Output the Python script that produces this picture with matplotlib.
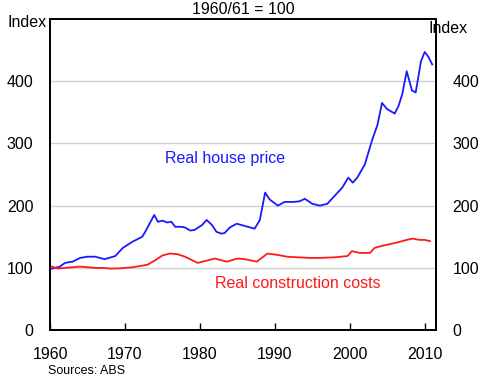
import matplotlib.pyplot as plt
import numpy as np

plt.rcParams['font.family'] = ['Liberation Sans', 'DejaVu Sans']

# real house price (index, 1960/61 = 100)
house_years = [1960, 1961.3, 1962, 1963, 1964, 1965, 1966, 1967.3, 1968.7, 1969.7,
               1971, 1972.3, 1972.7, 1973.9, 1974.4, 1975, 1975.6, 1976.2, 1976.7, 1977.5,
               1978, 1978.7, 1979.3, 1980.3, 1980.9, 1981.6, 1982.2, 1982.9, 1983.3, 1984,
               1984.9, 1985.8, 1986.7, 1987.3, 1988, 1988.7, 1989.3, 1990.4, 1991.3, 1992.5,
               1993.3, 1994, 1995, 1996, 1997, 1998, 1999, 1999.8, 2000.4, 2001,
               2002, 2003, 2003.7, 2004.3, 2005, 2006, 2006.5, 2007, 2007.6, 2008.3,
               2008.8, 2009.5, 2010, 2010.5, 2011]
house_price = [98, 102, 108, 110, 116, 118, 118, 114, 119, 132,
               142, 150, 158, 185, 174, 176, 173, 174, 166, 166,
               165, 160, 161, 169, 177, 169, 158, 155, 156, 165,
               171, 168, 165, 163, 177, 221, 210, 200, 206, 206,
               207, 211, 203, 200, 203, 216, 229, 245, 237, 245,
               266, 306, 330, 365, 355, 348, 360, 379, 416, 385,
               382, 432, 447, 439, 427]

# real construction costs
cost_years = [1960, 1961, 1962, 1963, 1964, 1965, 1966, 1967, 1968, 1969,
              1970, 1971, 1972, 1973, 1974, 1975, 1976, 1977, 1978, 1979.7,
              1981, 1982, 1983.6, 1985, 1986, 1987.6, 1989, 1990.3, 1991.6, 1993,
              1994.7, 1996, 1998, 1999.7, 2000.3, 2001.3, 2002.7, 2003.3, 2004.5, 2005.7,
              2006.7, 2007.6, 2008.4, 2009.3, 2010, 2010.7]
cost_index = [103, 99, 100, 101, 102, 101, 100, 100, 99, 99,
              100, 101, 103, 105, 112, 120, 123, 122, 118, 108,
              112, 115, 110, 115, 114, 110, 123, 121, 118, 117,
              116, 116, 117, 119, 127, 124, 124, 132, 136, 139,
              142, 145, 147, 145, 145, 143]

fig = plt.figure(figsize=(4.86, 3.87), dpi=100)
ax = fig.add_axes([0.103, 0.147, 0.794, 0.804])

ax.plot(house_years, house_price, color='#1a1aff', lw=1.3)
ax.plot(cost_years, cost_index, color='#ff1a1a', lw=1.3)

ax.set_xlim(1960, 2011.5)
ax.set_ylim(0, 500)
ax.set_yticks([0, 100, 200, 300, 400])
ax.set_xticks([1960, 1970, 1980, 1990, 2000, 2010])
for v in [100, 200, 300, 400]:
    ax.axhline(v, color='#d0d0d0', lw=1, zorder=0)

ax.tick_params(axis='x', direction='in', length=5, width=1, pad=12, labelsize=11.5)
ax.tick_params(axis='y', length=0, pad=12, labelsize=11.5)
for s in ax.spines.values():
    s.set_linewidth(1.3)

ax2 = ax.twinx()
ax2.set_ylim(0, 500)
ax2.set_yticks([0, 100, 200, 300, 400])
ax2.tick_params(axis='y', length=0, pad=12, labelsize=11.5)
for s in ax2.spines.values():
    s.set_linewidth(1.3)

fig.text(0.5, 0.975, '1960/61 = 100', ha='center', va='center', fontsize=11.5)
fig.text(0.016, 0.943, 'Index', ha='left', va='center', fontsize=11.5)
fig.text(0.882, 0.927, 'Index', ha='left', va='center', fontsize=11.5)
fig.text(0.099, 0.041, 'Sources: ABS', ha='left', va='center', fontsize=9)

ax.text(1975.3, 275, 'Real house price', color='#1a1aff', fontsize=11.5, va='center')
ax.text(1982, 75, 'Real construction costs', color='#ff1a1a', fontsize=11.5, va='center')

fig.savefig('out.png', dpi=100)
